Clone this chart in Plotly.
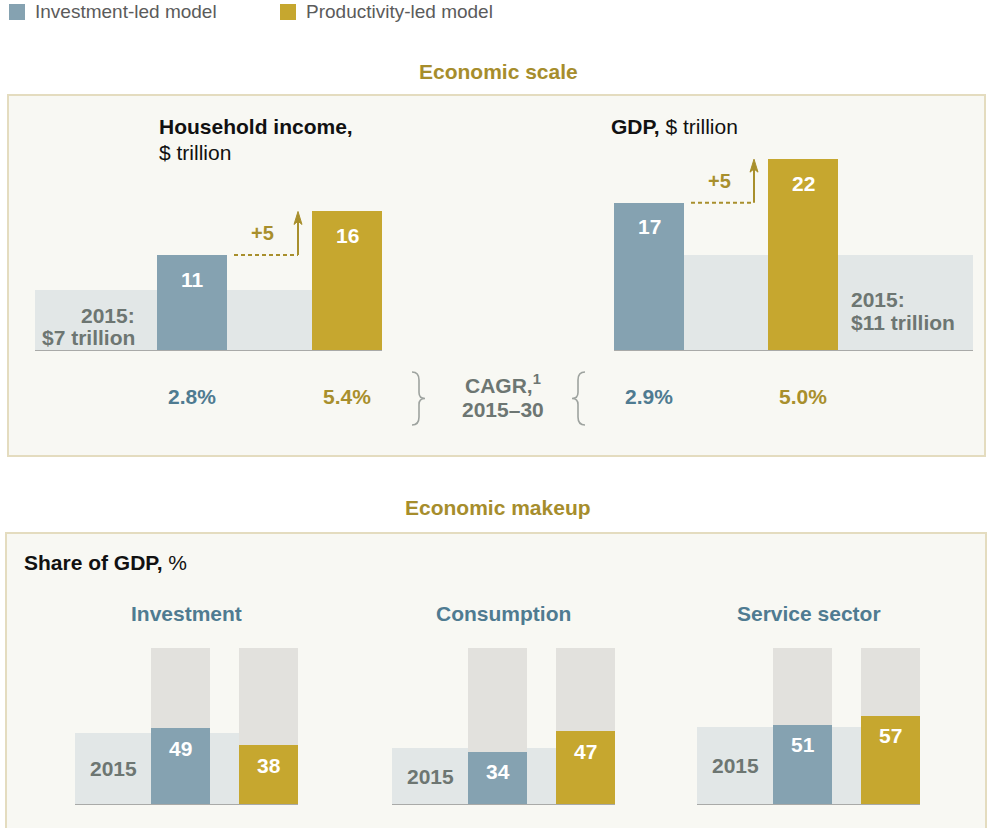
import plotly.graph_objects as go

W, H = 988, 828

# ---- data -------------------------------------------------------------
scale_metrics = ["Household income", "GDP"]
scale_2015 = [7, 11]                 # $ trillion, 2015
scale_invest_led = [11, 17]          # $ trillion, 2030, investment-led model
scale_product_led = [16, 22]         # $ trillion, 2030, productivity-led model
cagr_invest_led = ["2.8%", "2.9%"]
cagr_product_led = ["5.4%", "5.0%"]

makeup_categories = ["Investment", "Consumption", "Service sector"]
makeup_2015 = [46, 36, 50]           # share of GDP, %, 2015
makeup_invest_led = [49, 34, 51]
makeup_product_led = [38, 47, 57]

# ---- styling ----------------------------------------------------------
BLUE = "#85a2b1"
GOLD = "#c6a72f"
BAND = "#e2e7e7"
CAPACITY = "#e2e1dd"
PANEL_FILL = "#f8f8f3"
PANEL_LINE = "#e4dcbf"
TITLE_GOLD = "#a68d2c"
TEXT_BLUE = "#4f7b91"
TEXT_GOLD = "#a88f2c"
TEXT_GRAY = "#6d7672"
BASELINE = "#a9aaa8"
FONT = "Liberation Sans, Arial, Helvetica, sans-serif"
FS = 21  # main text size


def px(x):
    return x / W


def py(y):
    return 1 - y / H


def dom_x(a, b):
    return [px(a), px(b)]


def dom_y(top, bottom):
    return [py(bottom), py(top)]


fig = go.Figure()
layout_axes = {}
annotations = []
shapes = []


def axis_name(i, kind):
    return kind if i == 1 else f"{kind}{i}"


def ref(i, kind):
    return kind if i == 1 else f"{kind}{i}"


# ---- panel geometry (pixel layout of each small chart) ----------------
scale_panels = [
    dict(left=35, right=382, center=192, unit=155),
    dict(left=614, right=973, center=649, unit=154),
]
SCALE_TOP, SCALE_BASE, SCALE_MAX = 133, 351, 25
SCALE_BAR_PX = 70
SCALE_PX_PER_UNIT = (SCALE_BASE - SCALE_TOP) / SCALE_MAX

makeup_panels = [
    dict(left=75, right=298, center=180.5),
    dict(left=392, right=615, center=497.5),
    dict(left=697, right=920, center=802.5),
]
MAKEUP_UNIT = 88
MAKEUP_BAR_PX = 59
MAKEUP_TOP, MAKEUP_BASE = 648, 805

# ---- background panels ------------------------------------------------
shapes.append(dict(type="rect", xref="paper", yref="paper", layer="below",
                   x0=px(8), x1=px(985), y0=py(456), y1=py(95),
                   fillcolor=PANEL_FILL, line=dict(color=PANEL_LINE, width=2)))
shapes.append(dict(type="rect", xref="paper", yref="paper", layer="below",
                   x0=px(6), x1=px(986), y0=py(845), y1=py(533),
                   fillcolor=PANEL_FILL, line=dict(color=PANEL_LINE, width=2)))

# ---- legend -----------------------------------------------------------
for x0, color, label in [(9, BLUE, "Investment-led model"),
                         (280, GOLD, "Productivity-led model")]:
    shapes.append(dict(type="rect", xref="paper", yref="paper",
                       x0=px(x0), x1=px(x0 + 16), y0=py(20), y1=py(4),
                       fillcolor=color, line=dict(width=0)))
    annotations.append(dict(xref="paper", yref="paper", x=px(x0 + 24), y=py(12),
                            xanchor="left", yanchor="middle", showarrow=False,
                            text=label, font=dict(size=19, color="#5b5b5b")))

# ---- section titles ---------------------------------------------------
annotations.append(dict(xref="paper", yref="paper", x=px(498), y=py(72),
                        xanchor="center", yanchor="middle", showarrow=False,
                        text="<b>Economic scale</b>",
                        font=dict(size=FS, color=TITLE_GOLD)))
annotations.append(dict(xref="paper", yref="paper", x=px(498), y=py(507),
                        xanchor="center", yanchor="middle", showarrow=False,
                        text="<b>Economic makeup</b>",
                        font=dict(size=FS, color=TITLE_GOLD)))

# ---- economic scale panels --------------------------------------------
for k, p in enumerate(scale_panels):
    i = k + 1
    xa, ya = ref(i, "x"), ref(i, "y")
    unit = p["unit"]
    lo = (p["left"] - p["center"]) / unit
    hi = (p["right"] - p["center"]) / unit
    bw = SCALE_BAR_PX / unit
    layout_axes[axis_name(i, "xaxis")] = dict(
        domain=dom_x(p["left"], p["right"]), range=[lo, hi], visible=False,
        fixedrange=True, anchor=ya)
    layout_axes[axis_name(i, "yaxis")] = dict(
        domain=dom_y(SCALE_TOP, SCALE_BASE), range=[0, SCALE_MAX], visible=False,
        fixedrange=True, anchor=xa)

    # 2015 level band spanning the panel
    fig.add_trace(go.Bar(x=[(lo + hi) / 2], y=[scale_2015[k]], width=[hi - lo],
                         marker=dict(color=BAND, line=dict(width=0)),
                         xaxis=xa, yaxis=ya, hoverinfo="skip", showlegend=False))
    fig.add_trace(go.Bar(x=[0], y=[scale_invest_led[k]], width=[bw],
                         marker=dict(color=BLUE, line=dict(width=0)),
                         xaxis=xa, yaxis=ya, name="Investment-led model",
                         showlegend=False))
    fig.add_trace(go.Bar(x=[1], y=[scale_product_led[k]], width=[bw],
                         marker=dict(color=GOLD, line=dict(width=0)),
                         xaxis=xa, yaxis=ya, name="Productivity-led model",
                         showlegend=False))

    shapes.append(dict(type="line", xref=f"{xa} domain", yref=ya,
                       x0=0, x1=1, y0=0, y1=0,
                       line=dict(color=BASELINE, width=2)))

    # values inside bars
    for xv, val in [(0, scale_invest_led[k]), (1, scale_product_led[k])]:
        annotations.append(dict(xref=xa, yref=ya, x=xv, y=val, yshift=-24,
                                xanchor="center", yanchor="middle",
                                showarrow=False, text=f"<b>{val}</b>",
                                font=dict(size=FS, color="white")))

    # dashed step and arrow from investment-led to productivity-led level
    dash_start = bw / 2 + 7 / unit
    dash_end = 1 - bw / 2 - 14 / unit
    head_len = 13 / SCALE_PX_PER_UNIT
    head_half = 4 / unit
    y_lo, y_hi = scale_invest_led[k], scale_product_led[k]
    shapes.append(dict(type="line", xref=xa, yref=ya,
                       x0=dash_start, x1=dash_end, y0=y_lo, y1=y_lo,
                       line=dict(color=TEXT_GOLD, width=2, dash="4px,3px")))
    shapes.append(dict(type="line", xref=xa, yref=ya,
                       x0=dash_end, x1=dash_end, y0=y_lo, y1=y_hi - head_len * 0.6,
                       line=dict(color=TEXT_GOLD, width=2)))
    shapes.append(dict(type="path", xref=xa, yref=ya,
                       path=(f"M {dash_end},{y_hi} "
                             f"L {dash_end + head_half},{y_hi - head_len} "
                             f"L {dash_end},{y_hi - head_len * 0.75} "
                             f"L {dash_end - head_half},{y_hi - head_len} Z"),
                       fillcolor=TEXT_GOLD, line=dict(color=TEXT_GOLD, width=1)))
    delta = y_hi - y_lo
    annotations.append(dict(xref=xa, yref=ya, x=0.455, y=(y_lo + y_hi) / 2,
                            xanchor="center", yanchor="middle", showarrow=False,
                            text=f"<b>+{delta}</b>",
                            font=dict(size=20, color=TEXT_GOLD)))

    # CAGR figures under each bar
    for xv, txt, col in [(0, cagr_invest_led[k], TEXT_BLUE),
                         (1, cagr_product_led[k], TEXT_GOLD)]:
        annotations.append(dict(xref=xa, yref="paper", x=xv, y=py(396),
                                xanchor="center", yanchor="middle",
                                showarrow=False, text=f"<b>{txt}</b>",
                                font=dict(size=FS, color=col)))

# 2015 band labels
annotations.append(dict(xref="paper", yref="paper", x=px(137), y=py(316),
                        xanchor="right", yanchor="middle", showarrow=False,
                        text="<b>2015:</b>", font=dict(size=FS, color=TEXT_GRAY)))
annotations.append(dict(xref="paper", yref="paper", x=px(137), y=py(337),
                        xanchor="right", yanchor="middle", showarrow=False,
                        text=f"<b>${scale_2015[0]} trillion</b>",
                        font=dict(size=FS, color=TEXT_GRAY)))
annotations.append(dict(xref="paper", yref="paper", x=px(849), y=py(299),
                        xanchor="left", yanchor="middle", showarrow=False,
                        text="<b>2015:</b>", font=dict(size=FS, color=TEXT_GRAY)))
annotations.append(dict(xref="paper", yref="paper", x=px(849), y=py(323),
                        xanchor="left", yanchor="middle", showarrow=False,
                        text=f"<b>${scale_2015[1]} trillion</b>",
                        font=dict(size=FS, color=TEXT_GRAY)))

# panel headings
annotations.append(dict(xref="paper", yref="paper", x=px(157), y=py(126),
                        xanchor="left", yanchor="middle", showarrow=False,
                        text="<b>Household income,</b>",
                        font=dict(size=FS, color="#111111")))
annotations.append(dict(xref="paper", yref="paper", x=px(157), y=py(152),
                        xanchor="left", yanchor="middle", showarrow=False,
                        text="$ trillion",
                        font=dict(size=FS, color="#111111")))
annotations.append(dict(xref="paper", yref="paper", x=px(609), y=py(126),
                        xanchor="left", yanchor="middle", showarrow=False,
                        text="<b>GDP,</b> $ trillion",
                        font=dict(size=FS, color="#111111")))

# CAGR caption between braces
annotations.append(dict(xref="paper", yref="paper", x=px(503), y=py(384),
                        xanchor="center", yanchor="middle", showarrow=False,
                        text="<b>CAGR,<sup>1</sup></b>",
                        font=dict(size=FS, color=TEXT_GRAY)))
annotations.append(dict(xref="paper", yref="paper", x=px(503), y=py(409),
                        xanchor="center", yanchor="middle", showarrow=False,
                        text="<b>2015–30</b>",
                        font=dict(size=FS, color=TEXT_GRAY)))


def brace_path(x_end, x_mid, x_tip, top, bottom):
    mid = (top + bottom) / 2
    pts = [
        f"M {px(x_end)},{py(top)}",
        f"Q {px(x_mid)},{py(top)} {px(x_mid)},{py(top + 8)}",
        f"L {px(x_mid)},{py(mid - 6)}",
        f"Q {px(x_mid)},{py(mid)} {px(x_tip)},{py(mid)}",
        f"Q {px(x_mid)},{py(mid)} {px(x_mid)},{py(mid + 6)}",
        f"L {px(x_mid)},{py(bottom - 8)}",
        f"Q {px(x_mid)},{py(bottom)} {px(x_end)},{py(bottom)}",
    ]
    return " ".join(pts)


for x_end, x_mid, x_tip in [(412, 419, 425), (585, 578, 572)]:
    shapes.append(dict(type="path", xref="paper", yref="paper",
                       path=brace_path(x_end, x_mid, x_tip, 372, 425),
                       line=dict(color="#9ea39f", width=1.6)))

# ---- economic makeup panels -------------------------------------------
annotations.append(dict(xref="paper", yref="paper", x=px(22), y=py(562),
                        xanchor="left", yanchor="middle", showarrow=False,
                        text="<b>Share of GDP,</b> %",
                        font=dict(size=FS, color="#111111")))

for k, p in enumerate(makeup_panels):
    i = k + 3
    xa, ya = ref(i, "x"), ref(i, "y")
    lo = (p["left"] - p["center"]) / MAKEUP_UNIT
    hi = (p["right"] - p["center"]) / MAKEUP_UNIT
    bw = MAKEUP_BAR_PX / MAKEUP_UNIT
    layout_axes[axis_name(i, "xaxis")] = dict(
        domain=dom_x(p["left"], p["right"]), range=[lo, hi], visible=False,
        fixedrange=True, anchor=ya)
    layout_axes[axis_name(i, "yaxis")] = dict(
        domain=dom_y(MAKEUP_TOP, MAKEUP_BASE), range=[0, 100], visible=False,
        fixedrange=True, anchor=xa)

    fig.add_trace(go.Bar(x=[(lo + hi) / 2], y=[makeup_2015[k]], width=[hi - lo],
                         marker=dict(color=BAND, line=dict(width=0)),
                         xaxis=xa, yaxis=ya, hoverinfo="skip", showlegend=False))
    fig.add_trace(go.Bar(x=[0, 1], y=[100, 100], width=[bw, bw],
                         marker=dict(color=CAPACITY, line=dict(width=0)),
                         xaxis=xa, yaxis=ya, hoverinfo="skip", showlegend=False))
    fig.add_trace(go.Bar(x=[0], y=[makeup_invest_led[k]], width=[bw],
                         marker=dict(color=BLUE, line=dict(width=0)),
                         xaxis=xa, yaxis=ya, name="Investment-led model",
                         showlegend=False))
    fig.add_trace(go.Bar(x=[1], y=[makeup_product_led[k]], width=[bw],
                         marker=dict(color=GOLD, line=dict(width=0)),
                         xaxis=xa, yaxis=ya, name="Productivity-led model",
                         showlegend=False))

    shapes.append(dict(type="line", xref=f"{xa} domain", yref=ya,
                       x0=0, x1=1, y0=0, y1=0,
                       line=dict(color=BASELINE, width=2)))

    for xv, val in [(0, makeup_invest_led[k]), (1, makeup_product_led[k])]:
        annotations.append(dict(xref=xa, yref=ya, x=xv, y=val, yshift=-20,
                                xanchor="center", yanchor="middle",
                                showarrow=False, text=f"<b>{val}</b>",
                                font=dict(size=FS, color="white")))

    # "2015" in the band, left of the first bar
    annotations.append(dict(xref=xa, yref=ya, x=(lo + (-bw / 2)) / 2,
                            y=makeup_2015[k] / 2,
                            xanchor="center", yanchor="middle", showarrow=False,
                            text="<b>2015</b>",
                            font=dict(size=FS, color=TEXT_GRAY)))

    annotations.append(dict(xref=f"{xa} domain", yref="paper", x=0.5, y=py(613),
                            xanchor="center", yanchor="middle", showarrow=False,
                            text=f"<b>{makeup_categories[k]}</b>",
                            font=dict(size=FS, color=TEXT_BLUE)))

fig.update_layout(
    width=W, height=H,
    margin=dict(l=0, r=0, t=0, b=0),
    paper_bgcolor="white",
    plot_bgcolor="rgba(0,0,0,0)",
    barmode="overlay",
    bargap=0,
    font=dict(family=FONT),
    showlegend=False,
    shapes=shapes,
    annotations=annotations,
    **layout_axes,
)

fig.write_html("out.html")
